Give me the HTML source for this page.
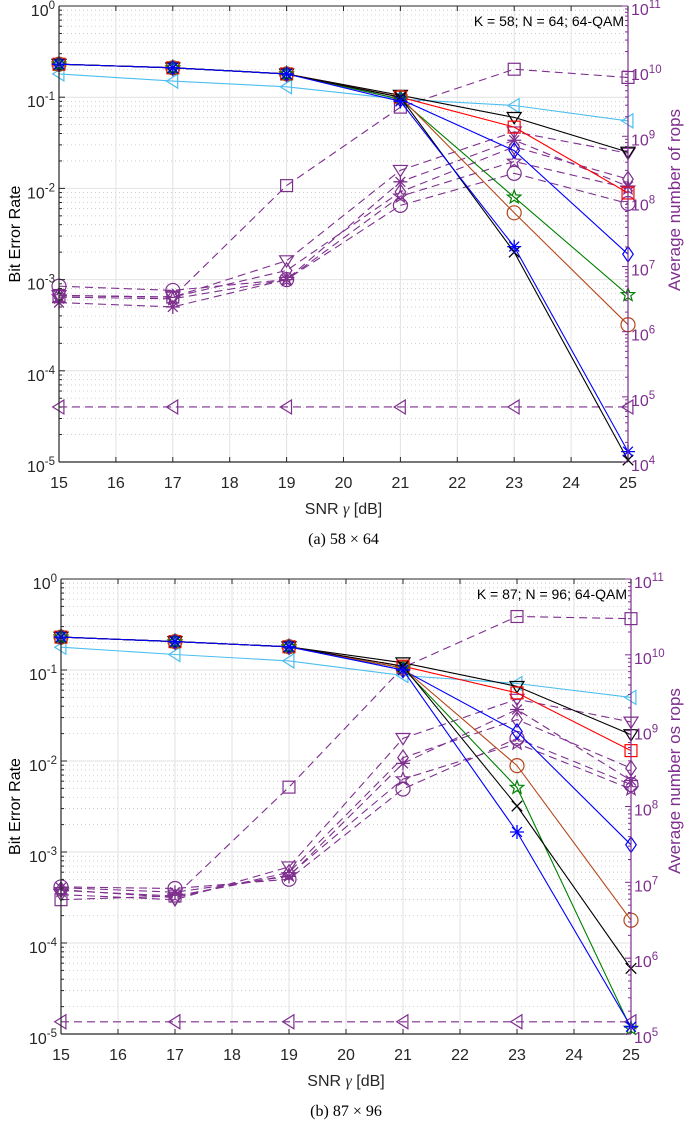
<!DOCTYPE html>
<html><head><meta charset="utf-8"><style>
html,body{margin:0;padding:0;background:#fff;}
svg{display:block;font-family:"Liberation Sans",sans-serif;}
</style></head><body>
<svg id="fig" width="685" height="1123" viewBox="0 0 685 1123"></svg>
<script>
const snr=[15,17,19,21,23,25];
const xTicks=[15,16,17,18,19,20,21,22,23,24,25];
// top chart (58x64) BER
const cyanA=[0.18,0.15,0.13,0.095,0.081,0.055];
const blackTriA=[0.23,0.21,0.18,0.105,0.06,0.025];
const redSqA=[0.23,0.21,0.18,0.1,0.047,0.0089];
const blueDiaA=[0.23,0.21,0.18,0.095,0.026,0.0019];
const greenPentA=[0.23,0.21,0.18,0.095,0.008,0.00068];
const brownCircA=[0.23,0.21,0.18,0.1,0.0054,0.00032];
const blackXA=[0.23,0.21,0.18,0.1,0.0020,0.0000105];
const blueStarA=[0.23,0.21,0.18,0.09,0.0023,0.000013];
// top chart rops
const ropsSqA=[3.6e6,3.4e6,1.75e8,2.8e9,1.07e10,8e9];
const ropsTriA=[3.6e6,3.4e6,1.23e7,3e8,1.17e9,5.5e8];
const ropsStarA=[2.8e6,2.4e6,6.3e6,2e8,8.7e8,1.7e8];
const ropsDiaA=[3.6e6,3.4e6,8.7e6,1.4e8,6.9e8,2.2e8];
const ropsPentA=[3.4e6,3.2e6,6.3e6,1.2e8,4.1e8,1.6e8];
const ropsCircA=[5e6,4.3e6,6.3e6,8.7e7,2.7e8,9.3e7];
const ropsTriLA=[7e4,7e4,7e4,7e4,7e4,7e4];
// bottom chart (87x96) BER
const cyanB=[0.178,0.148,0.126,0.087,0.071,0.05];
const blackTriB=[0.23,0.205,0.18,0.12,0.066,0.0195];
const redSqB=[0.23,0.205,0.18,0.11,0.056,0.013];
const blueDiaB=[0.23,0.205,0.18,0.1,0.021,0.0012];
const greenPentB=[0.23,0.205,0.18,0.105,0.0051,0.0000115];
const brownCircB=[0.23,0.205,0.18,0.105,0.0089,0.000178];
const blackXB=[0.23,0.205,0.18,0.11,0.0032,0.0000525];
const blueStarB=[0.23,0.205,0.18,0.1,0.00166,0.000012];
// bottom chart rops
const ropsSqB=[5.9e6,6.6e6,1.8e8,6.8e9,3.2e10,3.0e10];
const ropsTriB=[6.9e6,5.9e6,1.6e7,7.9e8,2.6e9,1.3e9];
const ropsStarB=[8.5e6,7.4e6,1.2e7,3.7e8,1.9e9,2.2e8];
const ropsDiaB=[8e6,6.3e6,1.35e7,4.4e8,1.4e9,3.2e8];
const ropsPentB=[7.8e6,6.6e6,1.25e7,2.3e8,6.8e8,1.7e8];
const ropsCircB=[8.7e6,8.3e6,1.1e7,1.7e8,7.9e8,1.95e8];
const ropsTriLB=[1.45e5,1.45e5,1.45e5,1.45e5,1.45e5,1.45e5];

const NS="http://www.w3.org/2000/svg";
const PUR="#7E2F8E";
function el(tag,attrs,parent){const e=document.createElementNS(NS,tag);for(const k in attrs)e.setAttribute(k,attrs[k]);parent.appendChild(e);return e;}

function marker(g,type,x,y,c,s){
  const r=s/2;let e;
  if(type==='o'){e=el('circle',{cx:x,cy:y,r:r,fill:'none',stroke:c,'stroke-width':1.2},g);}
  else if(type==='s'){e=el('rect',{x:x-r*0.85,y:y-r*0.85,width:r*1.7,height:r*1.7,fill:'none',stroke:c,'stroke-width':1.2},g);}
  else if(type==='d'){e=el('polygon',{points:`${x},${y-r*1.1} ${x+r*0.75},${y} ${x},${y+r*1.1} ${x-r*0.75},${y}`,fill:'none',stroke:c,'stroke-width':1.2},g);}
  else if(type==='v'){e=el('polygon',{points:`${x-r},${y-r*0.7} ${x+r},${y-r*0.7} ${x},${y+r*0.9}`,fill:'none',stroke:c,'stroke-width':1.2},g);}
  else if(type==='<'){e=el('polygon',{points:`${x-r*0.9},${y} ${x+r*0.7},${y-r} ${x+r*0.7},${y+r}`,fill:'none',stroke:c,'stroke-width':1.2},g);}
  else if(type==='p'){let p=[];for(let i=0;i<10;i++){const a=-Math.PI/2+i*Math.PI/5;const rr=i%2?r*0.42:r;p.push((x+rr*Math.cos(a)).toFixed(1)+','+(y+rr*Math.sin(a)).toFixed(1));}
    e=el('polygon',{points:p.join(' '),fill:'none',stroke:c,'stroke-width':1.2},g);}
  else if(type==='x'){e=el('path',{d:`M${x-r*0.75},${y-r*0.75}L${x+r*0.75},${y+r*0.75}M${x-r*0.75},${y+r*0.75}L${x+r*0.75},${y-r*0.75}`,stroke:c,'stroke-width':1.3,fill:'none'},g);}
  else if(type==='*'){e=el('path',{d:`M${x-r},${y}L${x+r},${y}M${x},${y-r}L${x},${y+r}M${x-r*0.7},${y-r*0.7}L${x+r*0.7},${y+r*0.7}M${x-r*0.7},${y+r*0.7}L${x+r*0.7},${y-r*0.7}`,stroke:c,'stroke-width':1.3,fill:'none'},g);}
  
  
}

function expText(g,x,y,exp,color,anchor,name){
  const t=el('text',{x:x,y:y,'font-size':16,fill:color,'text-anchor':anchor},g);
  
  
  t.appendChild(document.createTextNode('10'));
  const sp=el('tspan',{dy:-7,'font-size':11.5},t);sp.textContent=String(exp);
}

function drawChart(cfg){
  const svg=document.getElementById('fig');
  const g=el('g',{},svg);
  
  
  const {x0,x1,y0,y1,rMin,rMax}=cfg;
  const sx=v=>x0+(v-15)/10*(x1-x0);
  const sy=v=>y0+(0-Math.log10(v))/5*(y1-y0);
  const sr=v=>y0+(rMax-Math.log10(v))/(rMax-rMin)*(y1-y0);
  const grid=el('g',{},g);
  for(let d=0;d<5;d++){for(let m=2;m<=9;m++){const y=sy(Math.pow(10,-d-1)*m);
    el('line',{x1:x0,x2:x1,y1:y,y2:y,stroke:'#c4c4c4','stroke-width':0.8,'stroke-dasharray':'1,3'},grid);}}
  for(let d=0;d<=5;d++){const y=sy(Math.pow(10,-d));el('line',{x1:x0,x2:x1,y1:y,y2:y,stroke:'#e2e2e2','stroke-width':1},grid);}
  xTicks.forEach(v=>{el('line',{x1:sx(v),x2:sx(v),y1:y0,y2:y1,stroke:'#e2e2e2','stroke-width':1},grid);});
  cfg.rops.forEach(s=>{
    const pts=snr.map((v,i)=>sx(v).toFixed(1)+','+sr(s.data[i]).toFixed(1)).join(' ');
    const pl=el('polyline',{points:pts,fill:'none',stroke:PUR,'stroke-width':1.1,'stroke-dasharray':'8,5'},g);
    
    
    snr.forEach((v,i)=>marker(g,s.m,sx(v),sr(s.data[i]),PUR,14));
  });
  cfg.ber.forEach(s=>{
    const pts=snr.map((v,i)=>sx(v).toFixed(1)+','+sy(s.data[i]).toFixed(1)).join(' ');
    const pl=el('polyline',{points:pts,fill:'none',stroke:s.c,'stroke-width':1.1},g);
    
    
    snr.forEach((v,i)=>marker(g,s.m,sx(v),sy(s.data[i]),s.c,14));
  });
  el('line',{x1:x0,x2:x1,y1:y0,y2:y0,stroke:'#262626','stroke-width':1},g);
  el('line',{x1:x0,x2:x1,y1:y1,y2:y1,stroke:'#262626','stroke-width':1.2},g);
  el('line',{x1:x0,x2:x0,y1:y0,y2:y1,stroke:'#262626','stroke-width':1.2},g);
  el('line',{x1:x1,x2:x1,y1:y0,y2:y1,stroke:PUR,'stroke-width':1.2},g);
  xTicks.forEach(v=>{
    el('line',{x1:sx(v),x2:sx(v),y1:y1,y2:y1-5,stroke:'#262626'},g);
    el('line',{x1:sx(v),x2:sx(v),y1:y0,y2:y0+5,stroke:'#262626'},g);
    const t=el('text',{x:sx(v),y:y1+26,'font-size':16,fill:'#262626','text-anchor':'middle'},g);
    t.textContent=String(v);
    
    
  });
  for(let d=0;d<=5;d++){const y=sy(Math.pow(10,-d));
    el('line',{x1:x0,x2:x0+6,y1:y,y2:y,stroke:'#262626'},g);
    expText(g,x0-4,y+10,-d===0?0:-d,'#262626','end','y-tick-label');
    if(d<5)for(let m=2;m<=9;m++){const yy=sy(Math.pow(10,-d-1)*m);el('line',{x1:x0,x2:x0+3,y1:yy,y2:yy,stroke:'#262626'},g);}
  }
  for(let e=rMin;e<=rMax;e++){const y=sr(Math.pow(10,e));
    el('line',{x1:x1,x2:x1-6,y1:y,y2:y,stroke:PUR},g);
    expText(g,x1+3,y+9,e,PUR,'start','right-tick-label');
    if(e<rMax)for(let m=2;m<=9;m++){const yy=sr(Math.pow(10,e)*m);el('line',{x1:x1,x2:x1-3,y1:yy,y2:yy,stroke:PUR},g);}
  }
  const an=el('text',{x:x1-4,y:y0+20,'font-size':14,fill:'#000','text-anchor':'end'},g);
  an.textContent=cfg.ann;
  const yl=el('text',{x:0,y:0,'font-size':16,fill:'#000','text-anchor':'middle',transform:`translate(20,${(y0+y1)/2}) rotate(-90)`},g);
  yl.textContent='Bit Error Rate';
  const yr=el('text',{x:0,y:0,'font-size':17,fill:PUR,'text-anchor':'middle',transform:`translate(680,${cfg.rlabelY}) rotate(-90)`},g);
  yr.textContent=cfg.rlabel;
  const xl=el('text',{x:(x0+x1)/2,y:y1+52,'font-size':16,fill:'#262626','text-anchor':'middle'},g);
  
  xl.appendChild(document.createTextNode('SNR '));
  const gm=el('tspan',{'font-family':'Liberation Serif, serif','font-style':'italic'},xl);gm.textContent='γ';
  xl.appendChild(document.createTextNode(' [dB]'));
  const cp=el('text',{x:(x0+x1)/2,y:y1+82,'font-size':16,fill:'#000','text-anchor':'middle','font-family':'Liberation Serif, serif'},g);
  cp.textContent=cfg.caption;
}

drawChart({name:'chart-58x64',x0:59,x1:628,y0:6,y1:462,rMin:4,rMax:11,ann:'K = 58; N = 64; 64-QAM',
  rlabel:'Average number of rops',rlabelY:200,caption:'(a) 58 × 64',
  ber:[{n:'cyan',c:'#4DBEEE',m:'<',data:cyanA},{n:'black-tri',c:'#000',m:'v',data:blackTriA},{n:'red',c:'#ff0000',m:'s',data:redSqA},
       {n:'blue-dia',c:'#0000ff',m:'d',data:blueDiaA},{n:'green',c:'#008000',m:'p',data:greenPentA},{n:'brown',c:'#b4471a',m:'o',data:brownCircA},
       {n:'black-x',c:'#000',m:'x',data:blackXA},{n:'blue-star',c:'#0000ff',m:'*',data:blueStarA}],
  rops:[{m:'s',data:ropsSqA},{m:'v',data:ropsTriA},{m:'*',data:ropsStarA},{m:'d',data:ropsDiaA},{m:'p',data:ropsPentA},{m:'o',data:ropsCircA},{m:'<',data:ropsTriLA}]});
drawChart({name:'chart-87x96',x0:61,x1:631,y0:579,y1:1034,rMin:5,rMax:11,ann:'K = 87; N = 96; 64-QAM',
  rlabel:'Average number os rops',rlabelY:781,caption:'(b) 87 × 96',
  ber:[{n:'cyan',c:'#4DBEEE',m:'<',data:cyanB},{n:'black-tri',c:'#000',m:'v',data:blackTriB},{n:'red',c:'#ff0000',m:'s',data:redSqB},
       {n:'blue-dia',c:'#0000ff',m:'d',data:blueDiaB},{n:'green',c:'#008000',m:'p',data:greenPentB},{n:'brown',c:'#b4471a',m:'o',data:brownCircB},
       {n:'black-x',c:'#000',m:'x',data:blackXB},{n:'blue-star',c:'#0000ff',m:'*',data:blueStarB}],
  rops:[{m:'s',data:ropsSqB},{m:'v',data:ropsTriB},{m:'*',data:ropsStarB},{m:'d',data:ropsDiaB},{m:'p',data:ropsPentB},{m:'o',data:ropsCircB},{m:'<',data:ropsTriLB}]});
</script>
</body></html>
